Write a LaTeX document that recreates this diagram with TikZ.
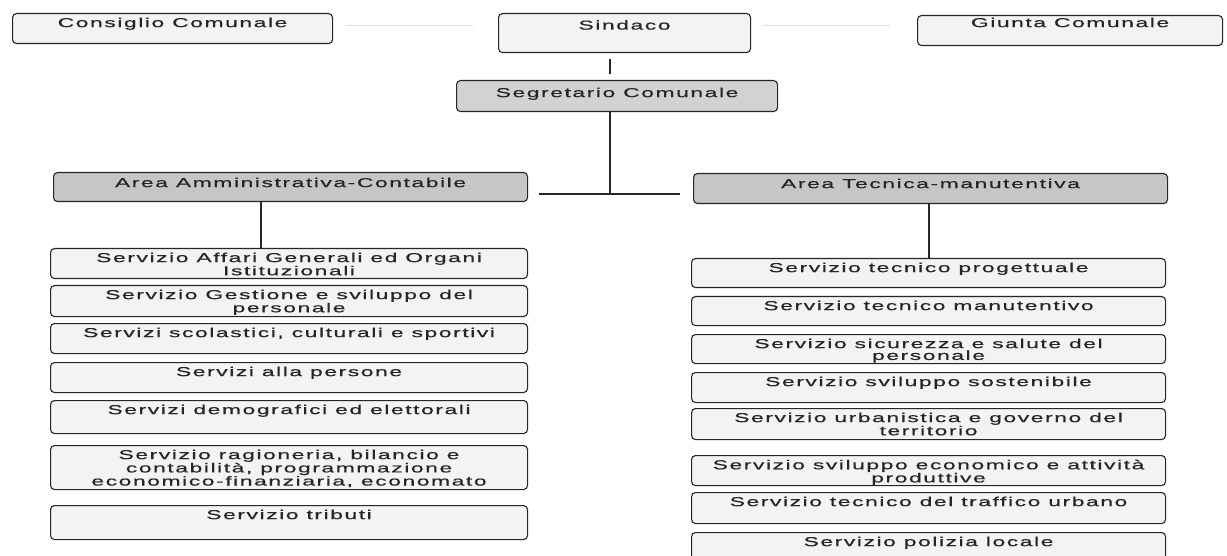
\documentclass[tikz,border=0pt]{standalone}
\usepackage{fontspec}
\newfontfamily\orgfont[FakeStretch=1.76,LetterSpace=12,FakeBold=0.6]{Liberation Sans}
\definecolor{boxfill}{HTML}{F3F3F3}
\definecolor{segfill}{HTML}{D2D2D2}
\definecolor{areafill}{HTML}{C6C6C6}
\definecolor{ink}{HTML}{262626}
\tikzset{
  basebox/.style={draw=ink, line width=1.1pt, rounded corners=4pt, anchor=north west, inner sep=0pt},
  wbox/.style={basebox, fill=boxfill},
  sbox/.style={basebox, fill=segfill},
  abox/.style={basebox, fill=areafill},
  lbl/.style={anchor=north, inner sep=0pt, yshift=-4.5pt, text=ink, align=center,
    font=\orgfont\fontsize{13}{11.8}\selectfont},
  conn/.style={draw=ink, line width=1.4pt},
  faint/.style={draw=black!12, line width=1pt}
}
\begin{document}
\begin{tikzpicture}[x=1pt,y=-1pt]
\clip (0,0) rectangle (1227,556);
\fill[white] (0,0) rectangle (1227,556);

% top row
\node[wbox, minimum width=320pt, minimum height=30pt, label={[lbl]north:Consiglio Comunale}] (cons) at (12,13) {};
\node[wbox, minimum width=252pt, minimum height=39pt, label={[lbl,yshift=-2.5pt]north:Sindaco}] (sind) at (498,13) {};
\node[wbox, minimum width=305pt, minimum height=30pt, label={[lbl,yshift=2pt]north:Giunta Comunale}] (giun) at (917,15) {};

% secretary
\node[sbox, minimum width=321pt, minimum height=31pt, label={[lbl,yshift=-3pt]north:Segretario Comunale}] (segr) at (456,80) {};

% areas
\node[abox, minimum width=474pt, minimum height=29pt, label={[lbl,yshift=-1pt]north:Area Amministrativa-Contabile}] (amm) at (53,172) {};
\node[abox, minimum width=474pt, minimum height=30pt, label={[lbl,yshift=-1pt]north:Area Tecnica-manutentiva}] (tec) at (693,173) {};

% left services
\node[wbox, minimum width=477pt, minimum height=30pt, label={[lbl]north:Servizio Affari Generali ed Organi\\Istituzionali}] (l1) at (50,248) {};
\node[wbox, minimum width=477pt, minimum height=31pt, label={[lbl]north:Servizio Gestione e sviluppo del\\personale}] (l2) at (50,285) {};
\node[wbox, minimum width=477pt, minimum height=30pt, label={[lbl]north:Servizi scolastici, culturali e sportivi}] (l3) at (50,323) {};
\node[wbox, minimum width=477pt, minimum height=30pt, label={[lbl]north:Servizi alla persone}] (l4) at (50,362) {};
\node[wbox, minimum width=477pt, minimum height=33pt, label={[lbl]north:Servizi demografici ed elettorali}] (l5) at (50,400) {};
\node[wbox, minimum width=477pt, minimum height=44pt, label={[lbl]north:Servizio ragioneria, bilancio e\\contabilità, programmazione\\economico-finanziaria, economato}] (l6) at (50,445) {};
\node[wbox, minimum width=477pt, minimum height=34pt, label={[lbl]north:Servizio tributi}] (l7) at (50,505) {};

% right services
\node[wbox, minimum width=474pt, minimum height=29pt, label={[lbl]north:Servizio tecnico progettuale}] (r1) at (691,258) {};
\node[wbox, minimum width=474pt, minimum height=29pt, label={[lbl]north:Servizio tecnico manutentivo}] (r2) at (691,296) {};
\node[wbox, minimum width=474pt, minimum height=29pt, label={[lbl]north:Servizio sicurezza e salute del\\personale}] (r3) at (691,334) {};
\node[wbox, minimum width=474pt, minimum height=30pt, label={[lbl]north:Servizio sviluppo sostenibile}] (r4) at (691,372) {};
\node[wbox, minimum width=474pt, minimum height=31pt, label={[lbl]north:Servizio urbanistica e governo del\\territorio}] (r5) at (691,408) {};
\node[wbox, minimum width=474pt, minimum height=30pt, label={[lbl]north:Servizio sviluppo economico e attività\\produttive}] (r6) at (691,455) {};
\node[wbox, minimum width=474pt, minimum height=31pt, label={[lbl]north:Servizio tecnico del traffico urbano}] (r7) at (691,492) {};
\node[wbox, minimum width=474pt, minimum height=28pt, label={[lbl]north:Servizio polizia locale}] (r8) at (691,532) {};

% connector helper coordinates
\coordinate (xs) at (610,26);
\coordinate (jn) at (610,194);
\coordinate (xa) at (261,0);
\coordinate (xt) at (929,0);

% faint top links
\draw[faint] ([xshift=13pt]cons.east |- xs) -- ([xshift=-25pt]sind.west |- xs);
\draw[faint] ([xshift=12pt]sind.east |- xs) -- ([xshift=-27pt]giun.west |- xs);

% sindaco - segretario
\draw[conn, shorten <=6pt, shorten >=6pt] (sind.south -| xs) -- (segr.north -| xs);
% segretario - areas
\draw[conn] (segr.south -| jn) -- (jn);
\draw[conn] ([xshift=11pt]amm.east |- jn) -- ([xshift=-13pt]tec.west |- jn);
% areas - services
\draw[conn] (amm.south -| xa) -- (l1.north -| xa);
\draw[conn] (tec.south -| xt) -- (r1.north -| xt);
\end{tikzpicture}
\end{document}
